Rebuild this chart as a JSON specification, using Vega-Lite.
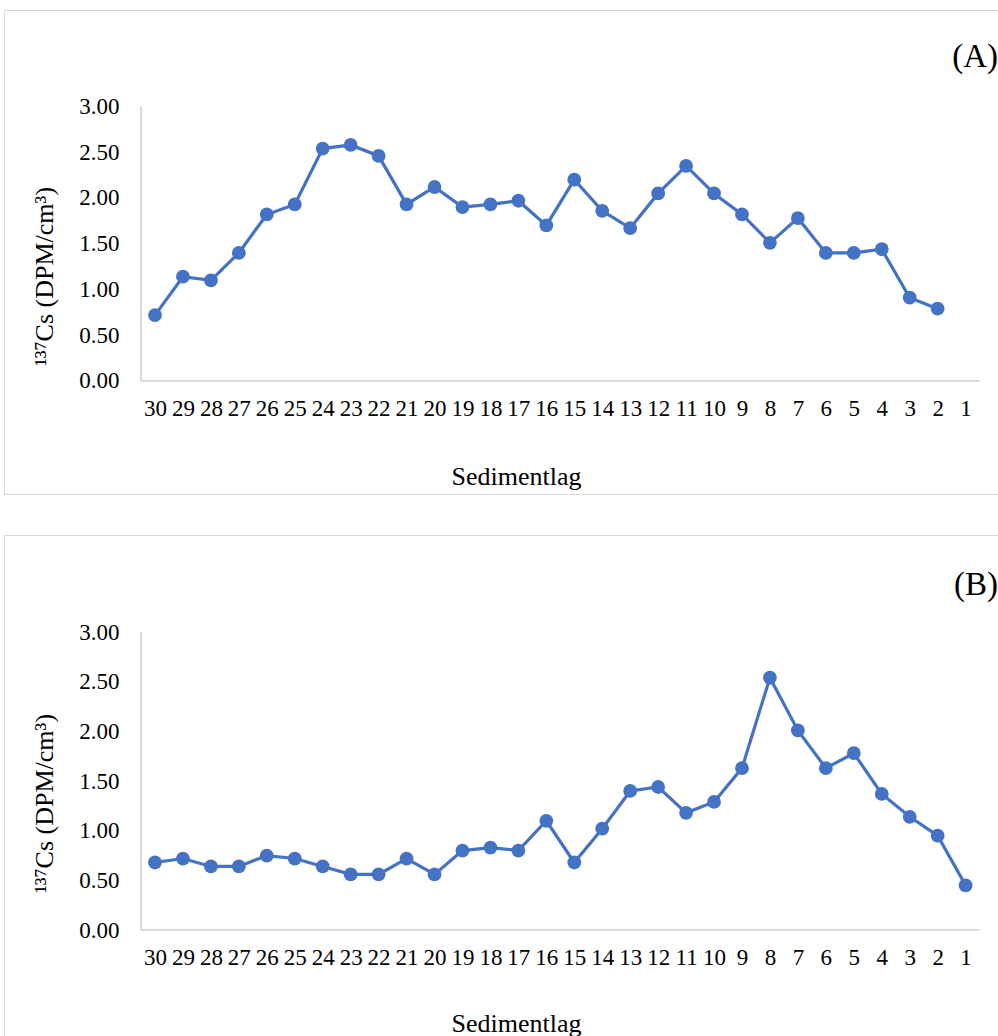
{
  "$schema": "https://vega.github.io/schema/vega-lite/v6.json",
  "padding": {"left": 3, "top": 9, "right": 0, "bottom": 0},
  "spacing": 39,
  "background": "white",
  "config": {
    "font": "Liberation Serif",
    "view": {"stroke": "#d9d9d9", "strokeWidth": 1},
    "axis": {
      "grid": false,
      "domain": false,
      "ticks": false,
      "tickSize": 0,
      "labelFont": "Liberation Serif",
      "labelFontSize": 23,
      "labelColor": "#000000",
      "titleFont": "Liberation Serif",
      "titleFontSize": 26,
      "titleFontWeight": "normal",
      "titleColor": "#000000"
    }
  },
  "datasets": {
    "A": [
      {"lag": 30, "cs": 0.72}, {"lag": 29, "cs": 1.14}, {"lag": 28, "cs": 1.10}, {"lag": 27, "cs": 1.40},
      {"lag": 26, "cs": 1.82}, {"lag": 25, "cs": 1.93}, {"lag": 24, "cs": 2.54}, {"lag": 23, "cs": 2.58},
      {"lag": 22, "cs": 2.46}, {"lag": 21, "cs": 1.93}, {"lag": 20, "cs": 2.12}, {"lag": 19, "cs": 1.90},
      {"lag": 18, "cs": 1.93}, {"lag": 17, "cs": 1.97}, {"lag": 16, "cs": 1.70}, {"lag": 15, "cs": 2.20},
      {"lag": 14, "cs": 1.86}, {"lag": 13, "cs": 1.67}, {"lag": 12, "cs": 2.05}, {"lag": 11, "cs": 2.35},
      {"lag": 10, "cs": 2.05}, {"lag": 9, "cs": 1.82}, {"lag": 8, "cs": 1.51}, {"lag": 7, "cs": 1.78},
      {"lag": 6, "cs": 1.40}, {"lag": 5, "cs": 1.40}, {"lag": 4, "cs": 1.44}, {"lag": 3, "cs": 0.91},
      {"lag": 2, "cs": 0.79}
    ],
    "B": [
      {"lag": 30, "cs": 0.68}, {"lag": 29, "cs": 0.72}, {"lag": 28, "cs": 0.64}, {"lag": 27, "cs": 0.64},
      {"lag": 26, "cs": 0.75}, {"lag": 25, "cs": 0.72}, {"lag": 24, "cs": 0.64}, {"lag": 23, "cs": 0.56},
      {"lag": 22, "cs": 0.56}, {"lag": 21, "cs": 0.72}, {"lag": 20, "cs": 0.56}, {"lag": 19, "cs": 0.80},
      {"lag": 18, "cs": 0.83}, {"lag": 17, "cs": 0.80}, {"lag": 16, "cs": 1.10}, {"lag": 15, "cs": 0.68},
      {"lag": 14, "cs": 1.02}, {"lag": 13, "cs": 1.40}, {"lag": 12, "cs": 1.44}, {"lag": 11, "cs": 1.18},
      {"lag": 10, "cs": 1.29}, {"lag": 9, "cs": 1.63}, {"lag": 8, "cs": 2.54}, {"lag": 7, "cs": 2.01},
      {"lag": 6, "cs": 1.63}, {"lag": 5, "cs": 1.78}, {"lag": 4, "cs": 1.37}, {"lag": 3, "cs": 1.14},
      {"lag": 2, "cs": 0.95}, {"lag": 1, "cs": 0.45}
    ]
  },
  "vconcat": [
    {
      "width": 995,
      "height": 484,
      "data": {"name": "A"},
      "encoding": {
        "x": {
          "field": "lag", "type": "quantitative",
          "scale": {"domain": [-0.195, 35.402], "reverse": true, "nice": false, "zero": false},
          "axis": {
            "orient": "bottom", "offset": -113,
            "values": [1,2,3,4,5,6,7,8,9,10,11,12,13,14,15,16,17,18,19,20,21,22,23,24,25,26,27,28,29,30],
            "format": "d", "labelOverlap": false, "labelFlush": false,
            "labelBaseline": "alphabetic", "labelPadding": 34,
            "title": "Sedimentlag", "titleX": 512, "titleY": 103,
            "titleAnchor": null, "titleAlign": "center", "titleBaseline": "alphabetic"
          }
        },
        "y": {
          "field": "cs", "type": "quantitative",
          "scale": {"domain": [-1.235, 4.0546], "nice": false, "zero": false},
          "axis": {
            "orient": "left", "offset": -137,
            "values": [0, 0.5, 1, 1.5, 2, 2.5, 3],
            "format": ".2f", "labelPadding": 22, "labelOverlap": false, "labelFlush": false,
            "title": "¹³⁷Cs (DPM/cm³)", "titleX": -97, "titleY": 266,
            "titleAngle": -90, "titleAlign": "center", "titleBaseline": "middle"
          }
        }
      },
      "layer": [
        {
          "transform": [{"filter": "datum.lag == 30"}],
          "mark": {"type": "rule", "color": "#d0d0d0", "strokeWidth": 1.5},
          "encoding": {
            "x": {"datum": 30.5, "type": "quantitative"},
            "x2": {"datum": 0.5},
            "y": {"datum": 0, "type": "quantitative"}
          }
        },
        {
          "transform": [{"filter": "datum.lag == 30"}],
          "mark": {"type": "rule", "color": "#d0d0d0", "strokeWidth": 1.5},
          "encoding": {
            "x": {"datum": 30.5, "type": "quantitative"},
            "y": {"datum": 0, "type": "quantitative"},
            "y2": {"datum": 3}
          }
        },
        {
          "mark": {"type": "line", "color": "#4472C4", "strokeWidth": 3.2,
                   "point": {"filled": true, "size": 190, "color": "#4472C4", "opacity": 1}}
        },
        {
          "transform": [{"filter": "datum.lag == 30"}],
          "mark": {"type": "text", "text": "(A)", "align": "right", "baseline": "middle",
                   "fontSize": 33, "fontWeight": "normal", "font": "Liberation Serif", "color": "#000000"},
          "encoding": {
            "x": {"datum": -0.16, "type": "quantitative"},
            "y": {"datum": 3.54, "type": "quantitative"}
          }
        }
      ]
    },
    {
      "width": 995,
      "height": 504,
      "data": {"name": "B"},
      "encoding": {
        "x": {
          "field": "lag", "type": "quantitative",
          "scale": {"domain": [-0.195, 35.402], "reverse": true, "nice": false, "zero": false},
          "axis": {
            "orient": "bottom", "offset": -109,
            "values": [1,2,3,4,5,6,7,8,9,10,11,12,13,14,15,16,17,18,19,20,21,22,23,24,25,26,27,28,29,30],
            "format": "d", "labelOverlap": false, "labelFlush": false,
            "labelBaseline": "alphabetic", "labelPadding": 34,
            "title": "Sedimentlag", "titleX": 512, "titleY": 101,
            "titleAnchor": null, "titleAlign": "center", "titleBaseline": "alphabetic"
          }
        },
        "y": {
          "field": "cs", "type": "quantitative",
          "scale": {"domain": [-1.097, 3.977], "nice": false, "zero": false},
          "axis": {
            "orient": "left", "offset": -137,
            "values": [0, 0.5, 1, 1.5, 2, 2.5, 3],
            "format": ".2f", "labelPadding": 22, "labelOverlap": false, "labelFlush": false,
            "title": "¹³⁷Cs (DPM/cm³)", "titleX": -97, "titleY": 268,
            "titleAngle": -90, "titleAlign": "center", "titleBaseline": "middle"
          }
        }
      },
      "layer": [
        {
          "transform": [{"filter": "datum.lag == 30"}],
          "mark": {"type": "rule", "color": "#d0d0d0", "strokeWidth": 1.5},
          "encoding": {
            "x": {"datum": 30.5, "type": "quantitative"},
            "x2": {"datum": 0.5},
            "y": {"datum": 0, "type": "quantitative"}
          }
        },
        {
          "transform": [{"filter": "datum.lag == 30"}],
          "mark": {"type": "rule", "color": "#d0d0d0", "strokeWidth": 1.5},
          "encoding": {
            "x": {"datum": 30.5, "type": "quantitative"},
            "y": {"datum": 0, "type": "quantitative"},
            "y2": {"datum": 3}
          }
        },
        {
          "mark": {"type": "line", "color": "#4472C4", "strokeWidth": 3.2,
                   "point": {"filled": true, "size": 190, "color": "#4472C4", "opacity": 1}}
        },
        {
          "transform": [{"filter": "datum.lag == 30"}],
          "mark": {"type": "text", "text": "(B)", "align": "right", "baseline": "middle",
                   "fontSize": 33, "fontWeight": "normal", "font": "Liberation Serif", "color": "#000000"},
          "encoding": {
            "x": {"datum": -0.16, "type": "quantitative"},
            "y": {"datum": 3.47, "type": "quantitative"}
          }
        }
      ]
    }
  ]
}
